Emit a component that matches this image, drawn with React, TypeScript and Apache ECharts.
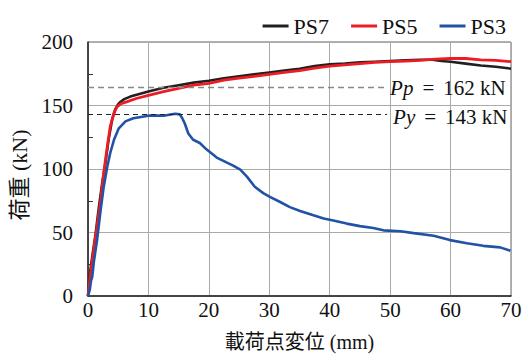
import React, { useEffect, useRef } from "react";
import * as echarts from "echarts";

const xTicks = { min: 0, max: 70, interval: 10 };
const yTicks = { min: 0, max: 200, interval: 50 };

const seriesNames = ["PS7", "PS5", "PS3"];

const ps7: [number, number][] = [
  [0, 0], [0.33, 18], [0.7, 31], [1.26, 49], [1.8, 70], [2.35, 89], [2.9, 105], [3.4, 123],
  [4.0, 139], [4.5, 147], [5.0, 151], [5.4, 153], [6, 155], [7, 157], [8.5, 159], [10, 161],
  [12.5, 164], [15, 166], [17.5, 168], [20, 169.5], [22.5, 171.5], [25, 173], [27.5, 174.5],
  [30, 176], [32.5, 177.5], [35, 179], [37.5, 181], [40, 182.5], [42.5, 183], [45, 184],
  [47.5, 184.5], [50, 185], [52.5, 185.5], [55, 186], [57, 186], [58.5, 185], [60, 184.5],
  [62.5, 183], [65, 181.5], [67.5, 180.5], [70, 179],
];

const ps5: [number, number][] = [
  [0, 0], [0.16, 7], [0.7, 28], [1.5, 55], [2.1, 76], [2.6, 97], [3.2, 118], [3.7, 134],
  [4.3, 144], [4.8, 149], [5.5, 151.5], [6.5, 153], [8, 155.5], [10, 158], [12.5, 161],
  [15, 163.5], [17.5, 166], [20, 167.5], [22.5, 170], [25, 171.5], [27.5, 173], [30, 174.5],
  [32.5, 176], [35, 177.5], [37.5, 179.5], [40, 181], [42.5, 182], [45, 183], [47.5, 184],
  [50, 184.5], [52.5, 185], [55, 185.5], [57.5, 186.5], [60, 187], [62.5, 187], [65, 186],
  [67.5, 185.5], [70, 184.5],
];

const ps3: [number, number][] = [
  [0, 0], [0.3, 5], [0.5, 12], [0.7, 15], [1.0, 28], [1.5, 44], [2.1, 68], [2.6, 86],
  [3.2, 102], [3.7, 113], [4.3, 123], [5.1, 132], [6.2, 137.5], [7.5, 140], [10, 142],
  [12.5, 142], [14.4, 143.5], [15.2, 143], [15.6, 140], [16.0, 136], [16.6, 128], [17.4, 123],
  [18.5, 120.5], [19.6, 115.5], [21.3, 109], [23, 105], [24.1, 102.5], [25.2, 99.5],
  [26.3, 94], [27.6, 86], [29, 81], [30.1, 78], [31.8, 74], [33.4, 70], [35.1, 67],
  [37.3, 63.5], [39, 61], [40.6, 59.5], [42.8, 57], [45, 55], [47.2, 53.5], [48.9, 51.7],
  [51.7, 51], [53.9, 49.5], [57.2, 47.5], [59.9, 44], [62.7, 41.5], [65.4, 39.5],
  [68.2, 38.3], [69.9, 35.6],
];

// reference lines: drawn value, label symbol, label value
const ppLine = { y: 164, xEnd: 49, sym: "Pp", text: "162 kN" };
const pyLine = { y: 143.5, xEnd: 49.5, sym: "Py", text: "143 kN" };

const colors = ["#231f20", "#ec1c24", "#2152a6"];
const FONT = "Liberation Serif";
const FONT_CJK = "Liberation Serif, Noto Sans CJK JP";

function refLabel(l: { sym: string; text: string }, dy: number) {
  return {
    show: true,
    position: "end" as const,
    distance: 6,
    offset: [0, dy],
    formatter: `{i|${l.sym}}{e|=}{n|${l.text}}`,
    rich: {
      i: { fontFamily: FONT, fontStyle: "italic", fontSize: 21, color: "#111" },
      e: { fontFamily: FONT, fontSize: 21, color: "#111", padding: [0, 9, 0, 9] },
      n: { fontFamily: FONT, fontSize: 21, color: "#111" },
    },
  };
}

export default function App() {
  const ref = useRef<HTMLDivElement>(null);
  useEffect(() => {
    if (!ref.current) return;
    const chart = echarts.init(ref.current, undefined, { renderer: "svg" });
    chart.setOption({
      animation: false,
      backgroundColor: "#fff",
      legend: {
        top: 10,
        right: 11,
        itemWidth: 26,
        itemHeight: 3,
        itemGap: 22,
        icon: "rect",
        textStyle: { fontFamily: FONT, fontSize: 22, color: "#111" },
        data: seriesNames,
      },
      grid: {
        left: 88,
        right: 11,
        top: 42,
        bottom: 63,
        containLabel: false,
        outerBoundsMode: "none",
        show: true,
        borderColor: "#666",
        borderWidth: 1,
      },
      xAxis: {
        type: "value",
        min: xTicks.min,
        max: xTicks.max,
        interval: xTicks.interval,
        name: "載荷点変位 (mm)",
        nameLocation: "middle",
        nameGap: 36,
        nameTextStyle: { fontFamily: FONT_CJK, fontSize: 20, color: "#111" },
        axisLine: { show: true, lineStyle: { color: "#222", width: 1.5 } },
        axisTick: { show: false },
        axisLabel: { fontFamily: FONT, fontSize: 21, color: "#111", margin: 3 },
        splitLine: { show: true, lineStyle: { color: "#aaa", width: 1 } },
      },
      yAxis: {
        type: "value",
        min: yTicks.min,
        max: yTicks.max,
        interval: yTicks.interval,
        name: "荷重 (kN)",
        nameLocation: "middle",
        nameGap: 56,
        nameTextStyle: { fontFamily: FONT_CJK, fontSize: 22, color: "#111", padding: [0, 12, 0, 0] },
        axisLine: { show: true, lineStyle: { color: "#222", width: 1.5 } },
        axisTick: { show: false, inside: true },
        minorTick: { show: true, splitNumber: 2, length: 5, lineStyle: { color: "#333", width: 1 } },
        axisLabel: { fontFamily: FONT, fontSize: 21, color: "#111", margin: 15 },
        splitLine: { show: true, lineStyle: { color: "#aaa", width: 1 } },
      },
      series: [
        {
          name: seriesNames[0],
          type: "line",
          data: ps7,
          showSymbol: false,
          symbol: "none",
          lineStyle: { color: colors[0], width: 2.6 },
          itemStyle: { color: colors[0] },
          z: 2,
          markLine: {
            silent: true,
            symbol: ["none", "none"],
            data: [
              [
                {
                  coord: [0, ppLine.y],
                  lineStyle: { color: "#888", type: [6, 4], width: 1.3 },
                  label: refLabel(ppLine, 0),
                },
                { coord: [ppLine.xEnd, ppLine.y] },
              ],
              [
                {
                  coord: [0, pyLine.y],
                  lineStyle: { color: "#222", type: [5, 4], width: 1 },
                  label: refLabel(pyLine, 3),
                },
                { coord: [pyLine.xEnd, pyLine.y] },
              ],
            ],
          },
        },
        {
          name: seriesNames[1],
          type: "line",
          data: ps5,
          showSymbol: false,
          symbol: "none",
          lineStyle: { color: colors[1], width: 2.8 },
          itemStyle: { color: colors[1] },
          z: 3,
        },
        {
          name: seriesNames[2],
          type: "line",
          data: ps3,
          showSymbol: false,
          symbol: "none",
          lineStyle: { color: colors[2], width: 2.6 },
          itemStyle: { color: colors[2] },
          z: 4,
        },
      ],
    });
    return () => chart.dispose();
  }, []);
  return (
    <div
      ref={ref}
      style={{ position: "fixed", left: 0, top: 0, width: 522, height: 359, background: "#fff" }}
    />
  );
}
